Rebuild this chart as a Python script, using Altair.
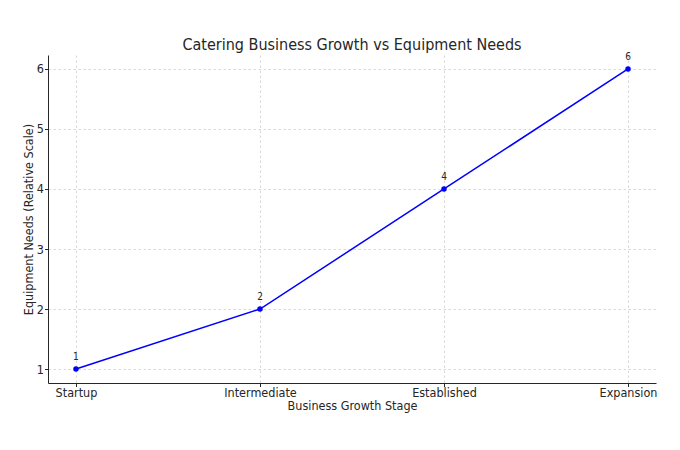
import altair as alt
import pandas as pd

stages = ["Startup", "Intermediate", "Established", "Expansion"]
needs = [1, 2, 4, 6]

df = pd.DataFrame({"stage": stages, "needs": needs})

FONT = "DejaVu Sans Condensed, DejaVu Sans"

common = dict(grid=True, gridDash=[2.5, 2.5], gridColor="#cfcfcf", gridWidth=0.8,
              labelFontSize=12.5, titleFontSize=12.5, titleFontWeight="normal",
              labelColor="#262626", titleColor="#262626", domainColor="#262626",
              tickColor="#262626", tickSize=3.5, labelFont=FONT, titleFont=FONT)

x = alt.X("stage:N", sort=stages, title="Business Growth Stage",
          scale=alt.Scale(type="point", padding=0.152),
          axis=alt.Axis(labelAngle=0, labelPadding=0, titlePadding=0, **common))
y = alt.Y("needs:Q", title="Equipment Needs (Relative Scale)",
          scale=alt.Scale(domain=[0.767, 6.233], nice=False, zero=False),
          axis=alt.Axis(values=[1, 2, 3, 4, 5, 6], labelPadding=1, titlePadding=1, **common))

base = alt.Chart(df).encode(x=x, y=y)
line = base.mark_line(color="#0000ff", strokeWidth=1.5)
pts = base.mark_point(color="#0000ff", filled=True, opacity=1, size=30)
labels = base.mark_text(dy=-12, fontSize=10, color="#262626", font=FONT).encode(text="needs:Q")

chart = (line + pts + labels).properties(
    width=608, height=328,
    background="white",
    title=alt.TitleParams("Catering Business Growth vs Equipment Needs", fontSize=16,
                          fontWeight="normal", color="#262626", font=FONT, offset=-1),
    autosize=alt.AutoSizeParams(type="none"),
    padding={"left": 40, "top": 47, "right": 16, "bottom": 60},
).configure_view(stroke=None)

chart.save("out.html", embed_options={"renderer": "svg", "actions": False})
